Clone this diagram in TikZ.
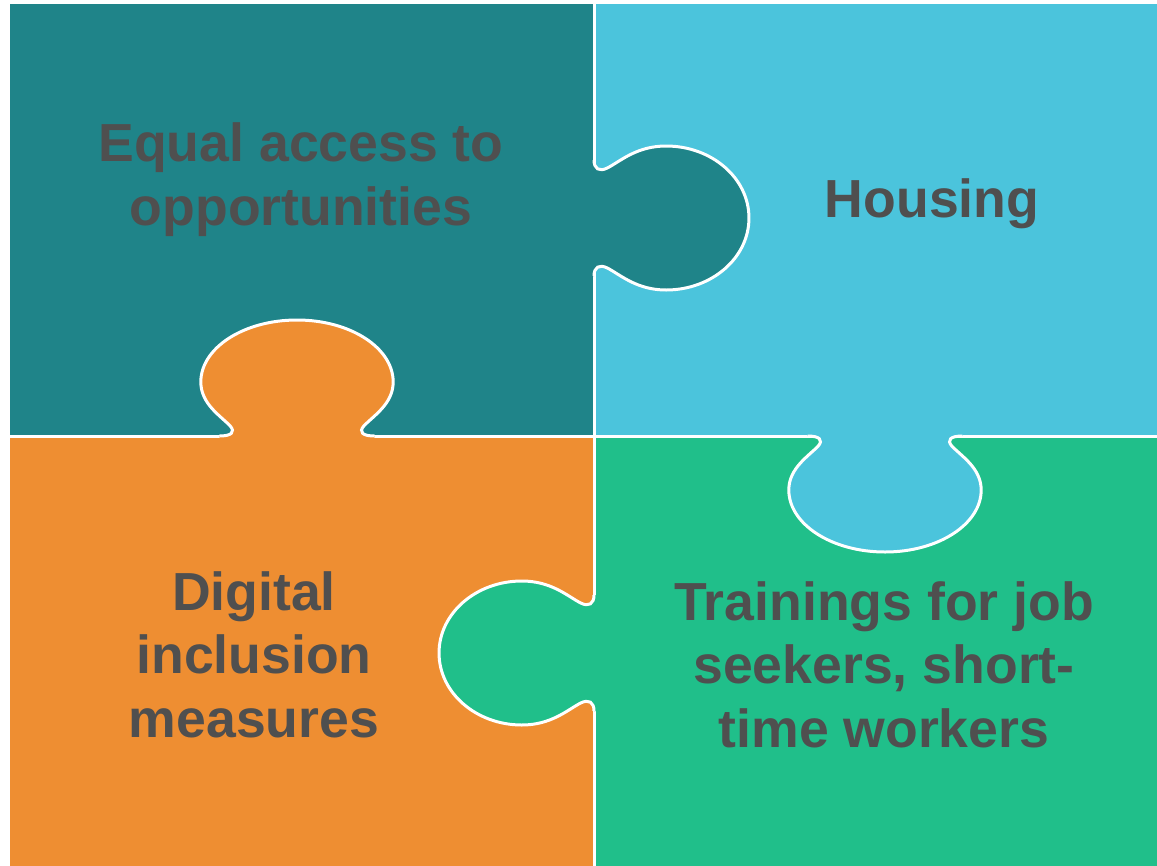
\documentclass[tikz,border=0pt]{standalone}
\usepackage{fontspec}
\setmainfont{Liberation Sans}
\usepackage{xcolor}
\usetikzlibrary{positioning}
\definecolor{tealcolor}{RGB}{31, 132, 137}
\definecolor{skycolor}{RGB}{75, 196, 220}
\definecolor{orangecolor}{RGB}{238, 142, 50}
\definecolor{greencolor}{RGB}{32, 191, 138}
\definecolor{textgray}{RGB}{79, 79, 79}
% one puzzle tab, neck on the u=0 line, pointing to +u
\newcommand{\tabcurve}{(0,58) .. controls (0,49) and (4,46) .. (10,50)
	.. controls (20,57) and (32,72) .. (54,72)
	.. controls (88,72) and (116,40) .. (116,0)
	.. controls (116,-40) and (88,-72) .. (54,-72)
	.. controls (32,-72) and (20,-57) .. (10,-50)
	.. controls (4,-46) and (0,-49) .. (0,-58)}
\tikzset{
	seam/.style={draw=white, line width=0.06cm},
	tabfill/.style={draw=none},
	piecetext/.style={font=\fontsize{30.5}{36}\selectfont\bfseries, text=textgray, align=center, anchor=base}
}

\begin{document}
\begin{tikzpicture}[x=0.02cm, y=-0.02cm]
		\useasboundingbox (0,0) rectangle (1157,866);
		\fill[white] (0,0) rectangle (1157,866);
		
		% pieces
		\fill[tealcolor] (10,4) rectangle (594,436);
		\fill[skycolor] (594,4) rectangle (1157,436);
		\fill[orangecolor] (10,436) rectangle (594,866);
		\fill[greencolor] (594,436) rectangle (1157,866);
		\draw[seam] (594,4) -- (594,866);
		\draw[seam] (10,436) -- (1157,436);
		
		% tabs
		\begin{scope}[shift={(594,218)}, xscale=1.336]
			\fill[tabfill, tealcolor] \tabcurve -- (-4,-58) -- (-4,58) -- cycle;
			\draw[seam] \tabcurve;
		\end{scope}
		\begin{scope}[shift={(297,436)}, xscale=1.336, rotate=90]
			\fill[tabfill, orangecolor] \tabcurve -- (-4,-58) -- (-4,58) -- cycle;
			\draw[seam] \tabcurve;
		\end{scope}
		\begin{scope}[shift={(885,436)}, xscale=1.336, rotate=-90]
			\fill[tabfill, skycolor] \tabcurve -- (-4,-58) -- (-4,58) -- cycle;
			\draw[seam] \tabcurve;
		\end{scope}
		\begin{scope}[shift={(594,653)}, xscale=1.336, rotate=180]
			\fill[tabfill, greencolor] \tabcurve -- (-4,-58) -- (-4,58) -- cycle;
			\draw[seam] \tabcurve;
		\end{scope}
		
		% labels (base = last line)
		\node[piecetext] (equal) at (301,225) {Equal access to\\opportunities};
		\node[piecetext] (housing) at (932,217) {Housing};
		\node[piecetext] (digital) at (254,737) {Digital\\inclusion\\measures};
		\node[piecetext] (trainings) at (884,747) {Trainings for job\\seekers, short-\\time workers};
\end{tikzpicture}
\end{document}
